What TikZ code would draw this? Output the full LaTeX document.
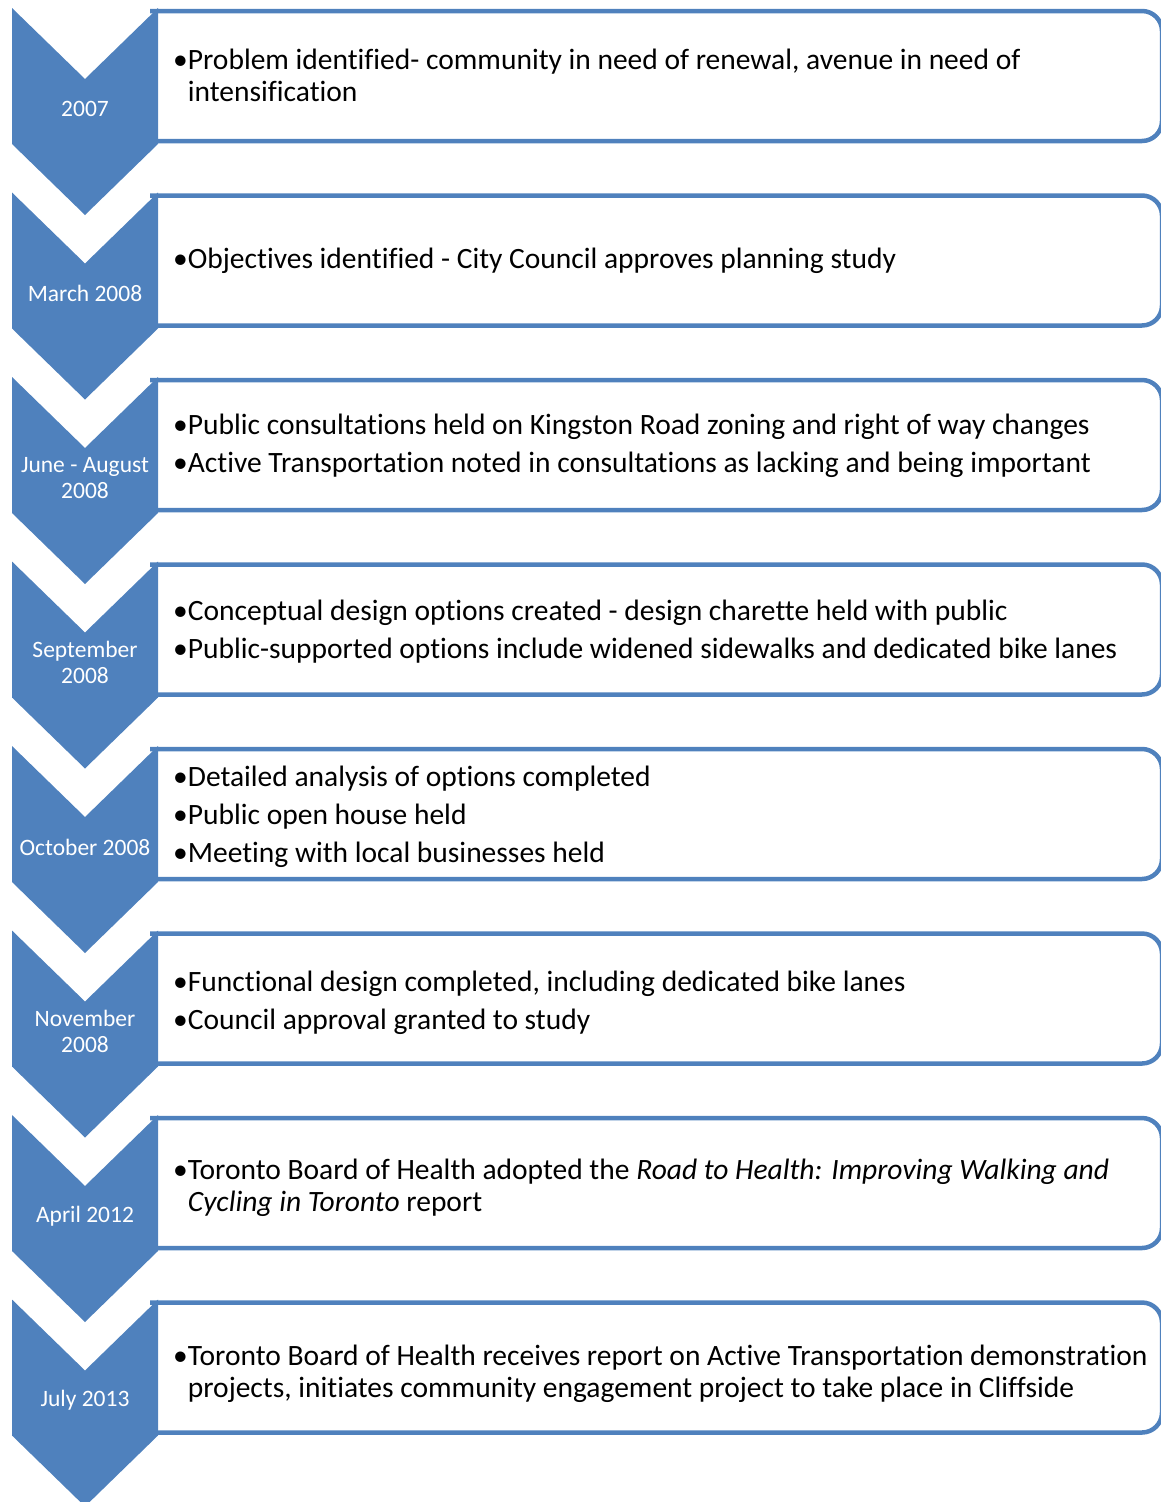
\documentclass[tikz,border=0pt]{standalone}
\usepackage{fontspec}
\setmainfont{Carlito}[Ligatures=NoCommon]
\definecolor{stepblue}{HTML}{4F81BD}
\newcommand{\bul}{\textbullet}
\newcommand{\ind}{\phantom{\textbullet}}
% #1 row, #2 date, #3 bullet text
\newcommand{\timelinestep}[3]{%
    \pgfmathsetmacro\ctop{8+184.5*#1}
    \pgfmathsetmacro\tmid{75+185.5*#1}
    % text box, left side hidden under the chevron
    \draw[stepbox] (150,\ctop+3) -- (1162,\ctop+3) -- (1162,\ctop+133) -- (150,\ctop+133);
    % chevron
    \fill[chevron] (12,\ctop) -- (85,\ctop+71) -- (158,\ctop) -- (158,\ctop+136)
      -- (85,\ctop+207) -- (12,\ctop+136) -- cycle;
    \node[datelabel] (date#1) at (85,\ctop+101) {#2};
    \node[bullets] (items#1) at (173,\tmid) {#3};
}

\begin{document}
\begin{tikzpicture}[x=1pt,y=-1pt]

 \tikzset{
    chevron/.style={fill=stepblue},
    stepbox/.style={draw=stepblue, line width=4.5pt, rounded corners=20pt},
    datelabel/.style={text=white, font=\fontsize{23.5}{26}\selectfont, align=center},
    bullets/.style={anchor=west, inner sep=0pt, font=\fontsize{29.5}{32}\selectfont, align=left},
  }

  \useasboundingbox (0,0) rectangle (1160,1502);

  \timelinestep{0}{2007}{\bul Problem identified- community in need of renewal, avenue in need of\\ \ind intensification}
  \timelinestep{1}{March 2008}{\bul Objectives identified - City Council approves planning study}
  \timelinestep{2}{June - August\\2008}{\bul Public consultations held on Kingston Road zoning and right of way changes\\[6pt] \bul Active Transportation noted in consultations as lacking and being important}
  \timelinestep{3}{September\\2008}{\bul Conceptual design options created - design charette held with public\\[6pt] \bul Public-supported options include widened sidewalks and dedicated bike lanes}
  \timelinestep{4}{October 2008}{\bul Detailed analysis of options completed\\[6pt] \bul Public open house held\\[6pt] \bul Meeting with local businesses held}
  \timelinestep{5}{November\\2008}{\bul Functional design completed, including dedicated bike lanes\\[6pt] \bul Council approval granted to study}
  \timelinestep{6}{April 2012}{\bul Toronto Board of Health adopted the \textit{Road to Health: Improving Walking and}\\ \ind\textit{Cycling in Toronto} report}
  \timelinestep{7}{July 2013}{\bul Toronto Board of Health receives report on Active Transportation demonstration\\ \ind projects, initiates community engagement project to take place in Cliffside}

\end{tikzpicture}
\end{document}
